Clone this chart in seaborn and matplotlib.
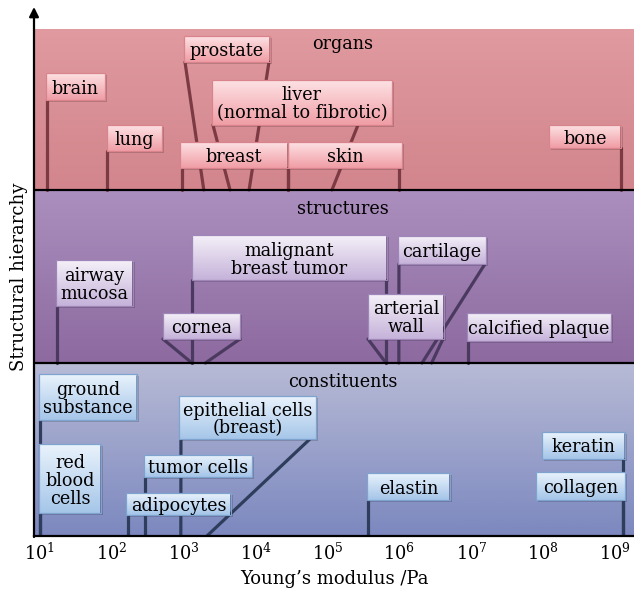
import numpy as np
import pandas as pd
import matplotlib
matplotlib.use("Agg")
import matplotlib.pyplot as plt
from matplotlib.colors import LinearSegmentedColormap
from matplotlib.patches import Rectangle
import seaborn as sns

# ---- data: Young's modulus (Pa) of tissues, grouped by structural level ----
organs = ["brain", "lung", "prostate", "liver\n(normal to fibrotic)",
          "breast", "skin", "bone"]
organ_E = [[12.5], [85], [1.9e3, 8.1e3], [4.4e3, 1.15e5],
           [9.4e2, 2.8e4], [2.8e4, 9.8e5], [1.2e9]]

structures = ["airway\nmucosa", "malignant\nbreast tumor", "cornea",
              "arterial\nwall", "cartilage", "calcified plaque"]
structure_E = [[17], [1.3e3, 6.5e5], [1.3e3, 2.0e3],
               [6.5e5, 2.8e6], [9.8e5, 2.06e6], [9.0e6]]

constituents = ["ground\nsubstance", "red\nblood\ncells", "tumor cells",
                "adipocytes", "epithelial cells\n(breast)", "elastin",
                "keratin", "collagen"]
constituent_E = [[10], [10], [290], [170], [9.1e2, 2.1e3], [3.6e5],
                 [1.3e9], [1.3e9]]

levels = ["constituents", "structures", "organs"]
tick_exponents = list(range(1, 10))

# ---- layout: label boxes (log10 left, log10 right, bottom, top) and the
# log10 positions where the connector lines leave the box (None = vertical) ----
organ_boxes = [
    (1.083, 1.904, 436, 463, None),
    (1.932, 2.697, 385, 411, None),
    (3.003, 4.199, 474, 500, (3.017, 4.185)),
    (3.392, 5.896, 411, 456, (3.406, 5.423)),
    (2.947, 4.449, 368, 394, None),
    (4.449, 6.035, 368, 394, None),
    (8.080, 9.080, 388, 411, None),
]
structure_boxes = [
    (1.223, 2.293, 230, 276, None),
    (3.114, 5.826, 256, 301, None),
    (2.711, 3.782, 197, 223, (2.711, 3.782)),
    (5.562, 6.619, 197, 242, (5.562, 6.605)),
    (5.979, 7.203, 272, 300, (5.993, 7.189)),
    (6.939, 8.942, 195, 223, None),
]
constituent_boxes = [
    (0.986, 2.349, 116, 162, None),
    (0.986, 1.848, 23, 92, None),
    (2.446, 3.949, 59, 81, None),
    (2.196, 3.656, 21, 43, None),
    (2.933, 4.839, 97, 140, (2.961, 4.755)),
    (5.548, 6.702, 36, 63, None),
    (7.982, 9.136, 77, 104, None),
    (7.898, 9.136, 36, 64, None),
]

band_spans = {"constituents": (0, 173), "structures": (173, 346), "organs": (346, 507)}
band_colors = {  # (top, bottom)
    "organs": ("#e09aa0", "#d2858c"),
    "structures": ("#ab8fbe", "#8d6aa0"),
    "constituents": ("#b8bbd6", "#7c88bf"),
}
box_colors = {  # (top, bottom, edge)
    "organs": ("#fde3e5", "#f09ea6", "#d9848c"),
    "structures": ("#f5f1f9", "#c6b3da", "#9f86b8"),
    "constituents": ("#eaf3fc", "#a6c6e9", "#7ea3cf"),
}
line_colors = {"organs": "#7c3a42", "structures": "#4b3a5f", "constituents": "#2f3d5c"}

LOG_MIN, LOG_MAX = 0.917, 9.262
XMIN, XMAX = 10 ** LOG_MIN, 10 ** LOG_MAX
YMAX = 507
LABEL_SIZE = 12.7

sns.set_theme(style="white")
plt.rcParams["font.family"] = ["DejaVu Serif"]
plt.rcParams["mathtext.fontset"] = "dejavuserif"

fig = plt.figure(figsize=(6.34, 5.90), dpi=100)
ax = fig.add_axes([34 / 634, 54 / 590, 600 / 634, 507 / 590])
ax.set_xscale("log")


def vgradient(x0, x1, y0, y1, top, bottom, z):
    cmap = LinearSegmentedColormap.from_list("g", [bottom, top])
    ax.imshow(np.linspace(0, 1, 128).reshape(-1, 1), extent=(x0, x1, y0, y1),
              origin="lower", cmap=cmap, aspect="auto", zorder=z,
              interpolation="bilinear")


# background bands
for lvl in levels:
    y0, y1 = band_spans[lvl]
    vgradient(XMIN, XMAX, y0, y1, *band_colors[lvl], z=0)

groups = {
    "organs": (organs, organ_E, organ_boxes),
    "structures": (structures, structure_E, structure_boxes),
    "constituents": (constituents, constituent_E, constituent_boxes),
}

# connector lines from each box down to the modulus values on the band floor
rows = []
seg = 0
for lvl, (names, values, boxes) in groups.items():
    floor = band_spans[lvl][0]
    for vals, (bl, br, bb, bt, anchors) in zip(values, boxes):
        for i, v in enumerate(vals):
            top_x = v if anchors is None else 10 ** anchors[i]
            rows.append({"E": top_x, "y": bb, "seg": seg, "level": lvl})
            rows.append({"E": v, "y": floor, "seg": seg, "level": lvl})
            seg += 1
lines = pd.DataFrame(rows)
sns.lineplot(data=lines, x="E", y="y", units="seg", hue="level",
             palette=line_colors, estimator=None, sort=False, lw=2.3,
             legend=False, ax=ax, zorder=2)

# label boxes with a soft drop shadow and a vertical gradient
px = (LOG_MAX - LOG_MIN) / 600.0  # log10 units per pixel
for lvl, (names, values, boxes) in groups.items():
    top, bottom, edge = box_colors[lvl]
    for name, (bl, br, bb, bt, anchors) in zip(names, boxes):
        x0, x1 = 10 ** bl, 10 ** br
        s0, s1 = 10 ** (bl + 2 * px), 10 ** (br + 2 * px)
        ax.add_patch(Rectangle((s0, bb - 2), s1 - s0, bt - bb,
                               facecolor="#000000", alpha=0.18, lw=0,
                               zorder=3))
        vgradient(x0, x1, bb, bt, top, bottom, z=4)
        ax.add_patch(Rectangle((x0, bb), x1 - x0, bt - bb, fill=False,
                               edgecolor=edge, lw=0.9, zorder=5))
        ax.text(10 ** ((bl + br) / 2), (bb + bt) / 2, name, ha="center",
                va="center_baseline", fontsize=LABEL_SIZE, linespacing=1.0,
                color="black", zorder=6)

# level titles
title_y = {"organs": 492, "structures": 327, "constituents": 154}
for lvl in levels:
    ax.text(10 ** 5.214, title_y[lvl], lvl, ha="center", va="center",
            fontsize=LABEL_SIZE, color="black", zorder=6)

# separators between levels
for y in (173, 346):
    ax.axhline(y, color="black", lw=1.6, zorder=7)

ax.set_xlim(XMIN, XMAX)
ax.set_ylim(0, YMAX)
for s in ("top", "right", "left"):
    ax.spines[s].set_visible(False)
ax.spines["bottom"].set_color("black")
ax.spines["bottom"].set_linewidth(1.6)
ax.spines["bottom"].set_zorder(8)

ax.set_xticks([10.0 ** k for k in tick_exponents])
ax.set_xticklabels([rf"$10^{{{k}}}$" for k in tick_exponents], fontsize=12.8,
                   color="black")
ax.xaxis.set_minor_locator(matplotlib.ticker.NullLocator())
ax.tick_params(axis="x", length=0, pad=5)
ax.set_yticks([])
ax.set_xlabel("Young\u2019s modulus /Pa", fontsize=13, labelpad=4,
              color="black")
ax.set_ylabel("Structural hierarchy", fontsize=13, color="black")
ax.yaxis.set_label_coords(-0.01, 0.511)

# upward arrow along the hierarchy axis
ax.annotate("", xy=(0, 1 + 22 / 507), xytext=(0, -0.002),
            xycoords="axes fraction",
            arrowprops=dict(arrowstyle="-|>", color="black", lw=1.6,
                            mutation_scale=14, shrinkA=0, shrinkB=0),
            annotation_clip=False, zorder=9)

fig.savefig("out.png", dpi=100)
